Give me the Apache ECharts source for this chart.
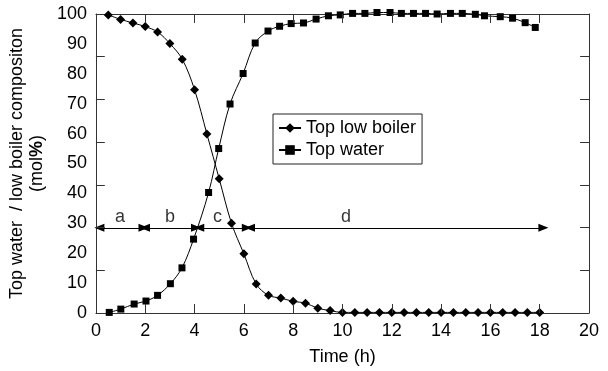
<!DOCTYPE html>
<html>
<head>
<meta charset="utf-8">
<script src="https://cdn.jsdelivr.net/npm/echarts@6/dist/echarts.min.js"></script>
<style>
html,body{margin:0;padding:0;background:#fff;}
#chart{width:608px;height:371px;}
</style>
</head>
<body>
<div id="chart"></div>
<script>
// ---- data ----
const lowBoilerTime = [0.5,1,1.5,2,2.5,3,3.5,4,4.5,5,5.5,6,6.5,7,7.5,8,8.5,9,9.5,10,10.5,11,11.5,12,12.5,13,13.5,14,14.5,15,15.5,16,16.5,17,17.5,18];
const lowBoiler = [99.7,98.2,97.0,95.8,94.0,90.1,84.9,74.7,59.9,44.9,30.0,19.8,9.7,5.9,5.0,3.9,3.3,1.6,0.8,0.2,0.2,0.2,0.2,0.2,0.2,0.2,0.2,0.2,0.2,0.2,0.2,0.2,0.2,0.2,0.2,0.2];
const waterTime = [0.54,1.01,1.55,2.03,2.5,3.02,3.49,3.96,4.57,4.98,5.44,5.97,6.46,6.98,7.45,7.92,8.42,8.93,9.43,9.91,10.41,10.91,11.4,11.93,12.39,12.88,13.37,13.84,14.38,14.86,15.39,15.76,16.4,16.9,17.41,17.82];
const water = [0.2,1.3,3.0,4.0,5.9,9.8,15.1,24.7,40.3,55.0,69.9,80.1,90.3,94.3,95.9,96.8,97.0,98.3,99.4,99.7,100.2,100.2,100.5,100.5,100.2,100.2,100.2,100.0,100.2,100.2,99.9,99.4,99.1,98.6,97.1,95.5];
const seriesNames = ['Top low boiler','Top water'];
const phaseNames = ['a','b','c','d'];
const phaseStart = [0.14,1.99,4.19,6.25];
const phaseEnd = [1.93,4.06,6.12,18.15];
const phaseLabelX = [0.98,3.0,4.93,10.14];
const phaseY = 28.5;
const xTickMarks = [2,4,6,8,10,12,14,16,18];
const yTickMarks = [14.29,28.57,42.86,57.14,71.43,85.71];
const xTitle = 'Time (h)';
const yTitle1 = 'Top water  / low boiler compositon';

// ---- chart ----
const FONT = '"Liberation Sans", Arial, sans-serif';
const AX = '#333';
const X_MIN = 0, X_MAX = 20, Y_MIN = 0, Y_MAX = 100;
const TICK_X_LEN = 0.36;  // tick length along x (≈9 px)
const TICK_Y_LEN = 3;     // tick length along y (≈9 px)
const chart = echarts.init(document.getElementById('chart'));
const zip = (xs, ys) => xs.map((x,i)=>[x, ys[i]]);
const axLine = () => ({show:true, onZero:false, lineStyle:{color:AX, width:1}});

const tickLines = [];
xTickMarks.forEach(v => {
  tickLines.push([{coord:[v, Y_MIN]},{coord:[v, Y_MIN + TICK_Y_LEN]}]);
  tickLines.push([{coord:[v, Y_MAX]},{coord:[v, Y_MAX - TICK_Y_LEN]}]);
});
yTickMarks.forEach(v => {
  tickLines.push([{coord:[X_MIN, v]},{coord:[X_MIN + TICK_X_LEN, v]}]);
  tickLines.push([{coord:[X_MAX, v]},{coord:[X_MAX - TICK_X_LEN, v]}]);
});

chart.setOption({
  animation:false,
  grid:{left:94, right:19, top:14, bottom:55},
  legend:{
    data:seriesNames, orient:'vertical', left:273, top:114,
    backgroundColor:'#fff', borderColor:'#222', borderWidth:1,
    padding:[5,6,5,5], itemGap:4, itemWidth:22, itemHeight:12,
    textStyle:{fontSize:18, color:'#000', fontFamily:FONT}
  },
  xAxis:[
    {type:'value', min:X_MIN, max:X_MAX, interval:2, position:'bottom',
     name:xTitle, nameLocation:'middle', nameGap:35,
     nameTextStyle:{fontSize:18, color:'#000', fontFamily:FONT},
     axisLine:axLine(), axisTick:{show:false},
     axisLabel:{fontSize:18, color:'#000', margin:9, fontFamily:FONT},
     splitLine:{show:false}},
    {type:'value', min:X_MIN, max:X_MAX, interval:2, position:'top',
     axisLine:axLine(), axisTick:{show:false},
     axisLabel:{show:false}, splitLine:{show:false}}
  ],
  yAxis:[
    {type:'value', min:Y_MIN, max:Y_MAX, interval:10, position:'left',
     name:'{t|'+yTitle1+'}\n{m|(mol}{p|%}{m|)}', nameLocation:'middle', nameRotate:90, nameGap:37,
     nameTextStyle:{color:'#000', fontFamily:FONT, align:'center',
       rich:{t:{fontSize:18, lineHeight:20, fontFamily:FONT, color:'#000'},
             m:{fontSize:18, lineHeight:20, fontFamily:FONT, color:'#000'},
             p:{fontSize:18, lineHeight:20, fontFamily:FONT, color:'#000', fontWeight:'bold'}}},
     axisLine:axLine(), axisTick:{show:false},
     axisLabel:{fontSize:18, color:'#000', margin:9, fontFamily:FONT},
     splitLine:{show:false}},
    {type:'value', min:Y_MIN, max:Y_MAX, interval:10, position:'right',
     axisLine:axLine(), axisTick:{show:false},
     axisLabel:{show:false}, splitLine:{show:false}}
  ],
  series:[
    {name:seriesNames[0], type:'line', data:zip(lowBoilerTime, lowBoiler),
     smooth:0.35, clip:false, symbol:'diamond', symbolSize:9, showSymbol:true,
     lineStyle:{color:'#000', width:1}, itemStyle:{color:'#000'}, z:3},
    {name:seriesNames[1], type:'line', data:zip(waterTime, water),
     smooth:0.35, clip:false, symbol:'rect', symbolSize:7, showSymbol:true,
     lineStyle:{color:'#000', width:1}, itemStyle:{color:'#000'}, z:3},
    {name:'phases', type:'scatter', symbolSize:0, silent:true,
     data:phaseNames.map((n,i)=>[phaseLabelX[i], phaseY, n]),
     label:{show:true, position:'top', distance:2, formatter:p=>p.value[2],
       fontSize:18, color:'#000', fontFamily:FONT},
     markLine:{silent:true, symbol:['triangle','triangle'], symbolSize:[8,10],
       lineStyle:{color:'#000', width:1, type:'solid'}, label:{show:false},
       itemStyle:{color:'#000'},
       data:phaseNames.map((n,i)=>[{coord:[phaseStart[i], phaseY]},{coord:[phaseEnd[i], phaseY]}])}
    },
    {name:'ticks', type:'scatter', symbolSize:0, silent:true, clip:false,
     data:[[X_MIN, Y_MIN]],
     markLine:{silent:true, symbol:['none','none'],
       lineStyle:{color:AX, width:1, type:'solid'}, label:{show:false},
       emphasis:{disabled:true},
       data:tickLines}
    }
  ]
});
</script>
</body>
</html>
